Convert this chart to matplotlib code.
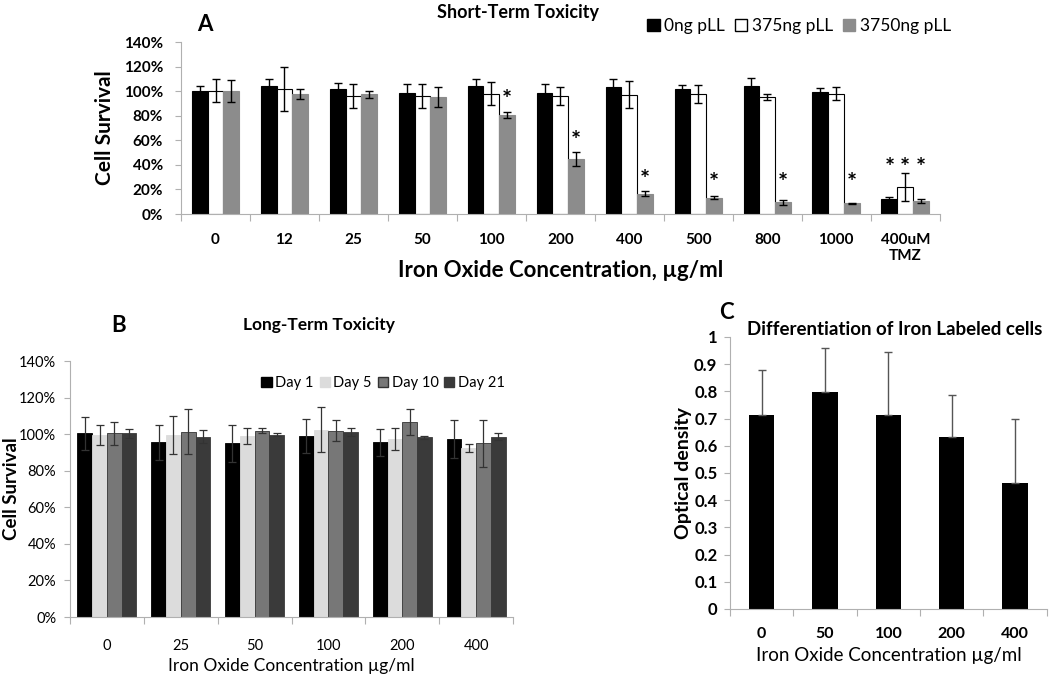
import numpy as np
import matplotlib.pyplot as plt
from matplotlib.ticker import FuncFormatter
from matplotlib.patches import Patch

plt.rcParams['font.family'] = ['Lato', 'DejaVu Sans']

# Panel A: short-term toxicity
a_cats = ['0', '12', '25', '50', '100', '200', '400', '500', '800', '1000', '400uM\nTMZ']
a_0ng = [100, 104, 102, 98.5, 104, 98.5, 103, 101.7, 104, 99.6, 12]
a_0ng_err = [4, 6, 5, 7, 6, 7, 7, 3.5, 7, 3, 2]
a_375 = [100.5, 101.5, 96, 96, 98, 96, 97, 98, 95.5, 98, 22]
a_375_err = [9, 18, 9.5, 9.5, 9.5, 7, 11, 7.3, 2.5, 5, 11]
a_3750 = [100, 97.5, 97.5, 95, 80.5, 44.5, 16.5, 13.3, 9.5, 8.7, 10.6]
a_3750_err = [9, 4, 3, 8, 2.7, 5.7, 2, 1, 2, 0.5, 2]

# Panel B: long-term toxicity
b_cats = ['0', '25', '50', '100', '200', '400']
b_day1 = [100.4, 95.6, 95, 99, 95.6, 97.3]
b_day1_err = [9, 9.5, 10, 9.5, 7.3, 10.4]
b_day5 = [99.6, 99.6, 99, 102.4, 97.5, 92.3]
b_day5_err = [5.5, 10.4, 4.5, 12.4, 6, 2.2]
b_day10 = [100.4, 101.3, 102, 102, 106.7, 95]
b_day10_err = [6.3, 12.4, 1.6, 5.7, 7.3, 12.8]
b_day21 = [100.4, 98.7, 99.6, 101.3, 98.2, 98.7]
b_day21_err = [2.5, 3.5, 0.8, 2.3, 0.7, 1.7]

# Panel C: differentiation
c_cats = ['0', '50', '100', '200', '400']
c_od = [0.713, 0.797, 0.713, 0.632, 0.463]
c_err = [0.167, 0.163, 0.232, 0.155, 0.237]

fig = plt.figure(figsize=(10.5, 6.79), dpi=100)
axA = fig.add_axes([0.1724, 0.6848, 0.7226, 0.2533])
axB = fig.add_axes([0.0667, 0.0913, 0.4219, 0.3770])
axC = fig.add_axes([0.6952, 0.1031, 0.3018, 0.4006])

pct = FuncFormatter(lambda v, p: f'{v:.0f}%')


def style_axis(ax, n, bold_ticks, fs, pad):
    for s in ['top', 'right']:
        ax.spines[s].set_visible(False)
    for s in ['left', 'bottom']:
        ax.spines[s].set_color('#b0b0b0')
    ax.set_xlim(0, n)
    ax.set_xticks(np.arange(n + 1))
    ax.set_xticklabels([])
    ax.tick_params(axis='x', which='major', length=5, color='#b0b0b0', direction='out')
    ax.tick_params(axis='y', length=4, color='#b0b0b0', labelsize=fs, pad=pad)
    w = 'bold' if bold_ticks else 'normal'
    for t in ax.get_yticklabels():
        t.set_fontweight(w)


# ---- A ----
n = len(a_cats)
x = np.arange(n) + 0.5
w = 0.23
ek = dict(ecolor='black', elinewidth=1, capsize=3, capthick=1)
axA.bar(x - w, a_0ng, w, yerr=a_0ng_err, color='black', edgecolor='black', lw=0.8, error_kw=ek)
axA.bar(x, a_375, w, yerr=a_375_err, color='white', edgecolor='black', lw=0.8, error_kw=ek)
axA.bar(x + w, a_3750, w, yerr=a_3750_err, color='#8c8c8c', edgecolor='#8c8c8c', lw=0.8, error_kw=ek)
axA.set_ylim(0, 140)
axA.set_yticks(np.arange(0, 141, 20))
axA.yaxis.set_major_formatter(pct)
style_axis(axA, n, True, 11, 9)
axA.set_xticks(x, minor=True)
axA.set_xticklabels(a_cats, minor=True, fontsize=11, fontweight='bold', linespacing=1.1)
axA.tick_params(axis='x', which='minor', length=0, pad=14)
for i in range(4, 10):
    top = a_3750[i] + a_3750_err[i]
    axA.text(x[i] + w, max(top + 9, 25), '*', ha='center', va='center',
             fontsize=17, fontweight='bold')
for off in (-w, 0, w):
    axA.text(x[10] + off, 37, '*', ha='center', va='center', fontsize=17, fontweight='bold')
axA.set_ylabel('Cell Survival', fontsize=15, fontweight='bold')
axA.yaxis.set_label_coords(-0.087, 0.5)
axA.set_xlabel('Iron Oxide Concentration, µg/ml', fontsize=16, fontweight='bold')
axA.xaxis.set_label_coords(0.5, -0.265)
fig.text(0.493, 0.982, 'Short-Term Toxicity', ha='center', va='center', fontsize=13, fontweight='bold')
fig.text(0.195, 0.964, 'A', ha='center', va='center', fontsize=16, fontweight='bold')
hA = [Patch(facecolor='black', edgecolor='black'),
      Patch(facecolor='white', edgecolor='black'),
      Patch(facecolor='#8c8c8c', edgecolor='#8c8c8c')]
fig.legend(hA, ['0ng pLL', '375ng pLL', '3750ng pLL'], loc='center', bbox_to_anchor=(0.761, 0.962),
           ncol=3, frameon=False, fontsize=12.5, handlelength=0.7, handleheight=0.7,
           handletextpad=0.25, columnspacing=0.6)

# ---- B ----
n = len(b_cats)
x = np.arange(n) + 0.5
w = 0.2
ekB = dict(ecolor='#333333', elinewidth=0.9, capsize=3, capthick=0.9)
series = [(b_day1, b_day1_err, 'black', 'black'),
          (b_day5, b_day5_err, '#dcdcdc', '#dcdcdc'),
          (b_day10, b_day10_err, '#777777', '#333333'),
          (b_day21, b_day21_err, '#3a3a3a', '#3a3a3a')]
for k, (vals, errs, fc, ec) in enumerate(series):
    axB.bar(x + (k - 1.5) * w, vals, w, yerr=errs, color=fc, edgecolor=ec, lw=0.6, error_kw=ekB)
axB.set_ylim(0, 140)
axB.set_yticks(np.arange(0, 141, 20))
axB.yaxis.set_major_formatter(pct)
style_axis(axB, n, False, 10.5, 6)
axB.set_xticks(x, minor=True)
axB.set_xticklabels(b_cats, minor=True, fontsize=10.5)
axB.tick_params(axis='x', which='minor', length=0, pad=16)
# y label sits right at the left edge of the figure, so place it by hand
fig.text(11.5 / 1050, 0.28, 'Cell Survival', rotation=90, ha='center', va='center',
         fontsize=13.5, fontweight='bold')
axB.set_xlabel('Iron Oxide Concentration µg/ml', fontsize=12.5)
axB.xaxis.set_label_coords(0.5, -0.16)
fig.text(0.304, 0.521, 'Long-Term Toxicity', ha='center', va='center', fontsize=12.5, fontweight='bold')
fig.text(0.113, 0.521, 'B', ha='center', va='center', fontsize=16, fontweight='bold')
hB = [Patch(facecolor=fc, edgecolor=ec) for _, _, fc, ec in series]
axB.legend(hB, ['Day 1', 'Day 5', 'Day 10', 'Day 21'], loc='center', bbox_to_anchor=(0.707, 0.914),
           ncol=4, frameon=False, fontsize=10.5, handlelength=0.7, handleheight=0.7,
           handletextpad=0.25, columnspacing=0.4)

# ---- C ----
n = len(c_cats)
x = np.arange(n) + 0.5
axC.bar(x, c_od, 0.4, color='black')
axC.errorbar(x, c_od, yerr=[np.zeros(n), c_err], fmt='none', ecolor='#555555',
             elinewidth=1, capsize=3, capthick=1)
axC.set_ylim(0, 1)
axC.set_yticks(np.arange(0, 1.01, 0.1))
axC.yaxis.set_major_formatter(FuncFormatter(lambda v, p: f'{v:.0f}' if v in (0, 1) else f'{v:.1f}'))
style_axis(axC, n, True, 12, 5)
axC.set_xticks(x, minor=True)
axC.set_xticklabels(c_cats, minor=True, fontsize=11.5, fontweight='bold')
axC.tick_params(axis='x', which='minor', length=0, pad=13)
axC.set_ylabel('Optical density', fontsize=14, fontweight='bold')
axC.yaxis.set_label_coords(-0.12, 0.5)
axC.set_xlabel('Iron Oxide Concentration µg/ml', fontsize=13.5)
axC.xaxis.set_label_coords(0.5, -0.14)
fig.text(0.852, 0.514, 'Differentiation of Iron Labeled cells', ha='center', va='center',
         fontsize=13.5, fontweight='bold')
fig.text(0.692, 0.540, 'C', ha='center', va='center', fontsize=16, fontweight='bold')

fig.savefig('out.png', dpi=100)
